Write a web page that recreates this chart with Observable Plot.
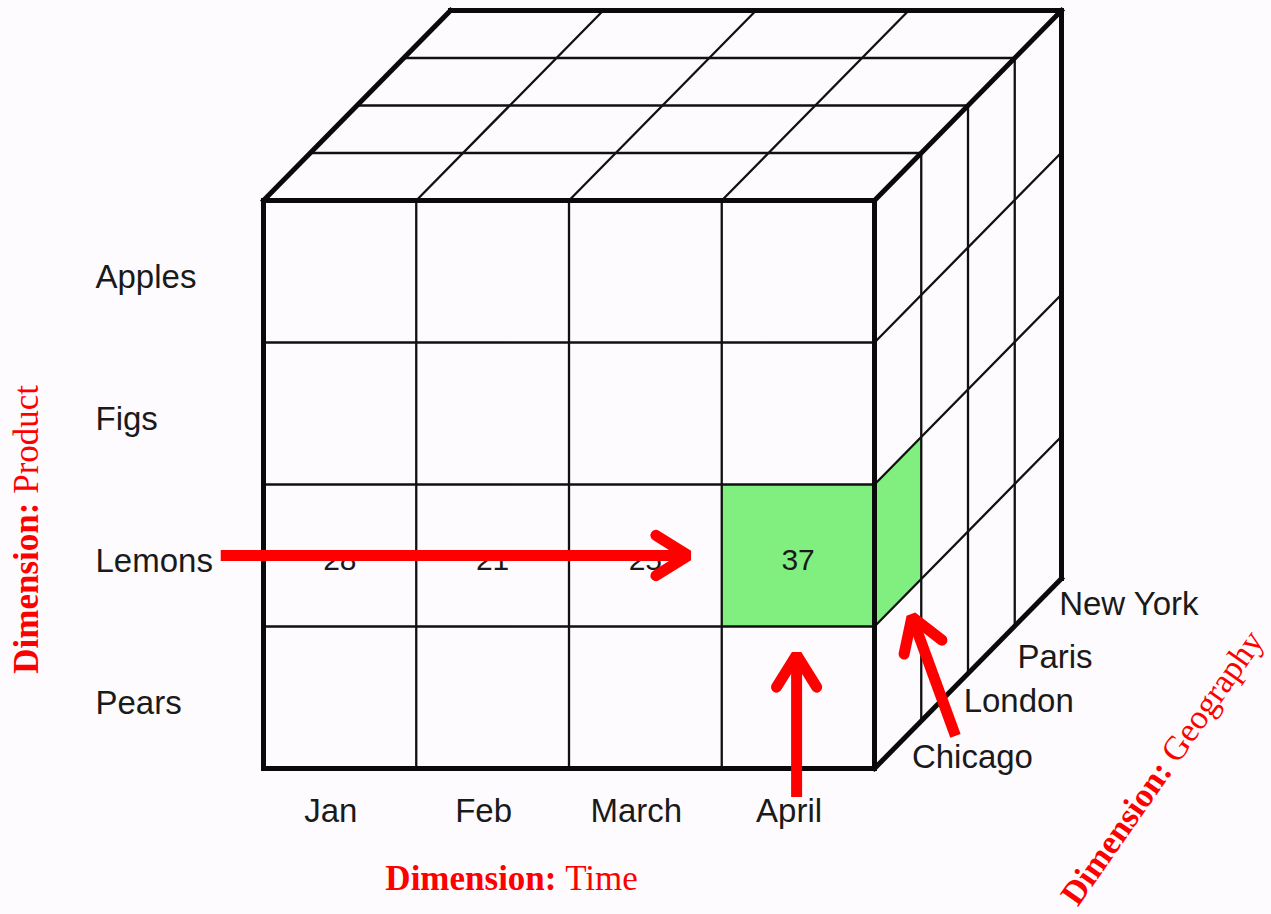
<!DOCTYPE html>
<html><head><meta charset="utf-8">
<script src="https://cdn.jsdelivr.net/npm/d3@7"></script>
<script src="https://cdn.jsdelivr.net/npm/@observablehq/plot@0.6"></script>
<style>
html,body{margin:0;padding:0;background:#fefbfe;}
#chart svg{display:block;}
</style></head><body><div id="chart"></div>
<script>
// ---- data ----
const months = ["Jan", "Feb", "March", "April"];
const products = ["Apples", "Figs", "Lemons", "Pears"];
const cities = ["Chicago", "London", "Paris", "New York"];
const lemonsChicago = [28, 21, 25, 37];          // Lemons sold in Chicago, by month
const highlight = {month: "April", product: "Lemons", city: "Chicago"};
const dimensionTitles = [["Dimension:", "Product"], ["Dimension:", "Time"], ["Dimension:", "Geography"]];

// ---- layout ----
const W = 1271, H = 914;
const FRONT = {left: 263, right: 874, top: 200, bottom: 768};
const DEPTH_PX = {dx: 187, dy: 190};
const nC = months.length, nR = products.length, nD = cities.length;
const kx = (FRONT.right - FRONT.left) / nC, ky = (FRONT.bottom - FRONT.top) / nR;
const DX = DEPTH_PX.dx / kx / nD, DY = DEPTH_PX.dy / ky / nD;
const P = (c, r, d = 0) => ({x: c + DX * d, y: r - DY * d});

const hc = months.indexOf(highlight.month), hr = products.indexOf(highlight.product), hd = cities.indexOf(highlight.city);

// grid segments of the cube
const seg = []; let sid = 0;
function addSeg(a, b, thick) { const id = sid++; seg.push({...a, id, thick}, {...b, id, thick}); }
for (let c = 0; c <= nC; c++) addSeg(P(c, 0), P(c, nR), c === 0 || c === nC);
for (let r = 0; r <= nR; r++) addSeg(P(0, r), P(nC, r), r === 0 || r === nR);
for (let c = 0; c <= nC; c++) addSeg(P(c, 0, 0), P(c, 0, nD), c === 0 || c === nC);
for (let d = 1; d <= nD; d++) addSeg(P(0, 0, d), P(nC, 0, d), d === nD);
for (let r = 1; r <= nR; r++) addSeg(P(nC, r, 0), P(nC, r, nD), r === nR);
for (let d = 1; d <= nD; d++) addSeg(P(nC, 0, d), P(nC, nR, d), d === nD);

// highlighted cell: front face + right face
const frontCell = [{x1: hc, x2: hc + 1, y1: hr, y2: hr + 1}];
const sideCell = [
  {x: P(nC, hr, hd).x, y1: P(nC, hr, hd).y, y2: P(nC, hr + 1, hd).y},
  {x: P(nC, hr, hd + 1).x, y1: P(nC, hr, hd + 1).y, y2: P(nC, hr + 1, hd + 1).y}
];

// cell values
const values = lemonsChicago.map((v, i) => ({x: i + 0.5, y: hr + 0.5, v}));

// arrows (plot units)
const arrowDefs = [
  {tail: {x: -0.28, y: hr + 0.5}, tip: {x: hc - 0.22, y: hr + 0.5}},
  {tail: {x: hc + 0.49, y: nR + 0.2}, tip: {x: hc + 0.49, y: hr + 1.2}},
  {tail: {x: 4.53, y: 3.77}, tip: {x: 4.245, y: 2.932}}
];
const shafts = [], heads = [];
arrowDefs.forEach((a, i) => {
  const vx = (a.tip.x - a.tail.x) * kx, vy = (a.tip.y - a.tail.y) * ky, L = Math.hypot(vx, vy);
  const bx = -vx / L, by = -vy / L, armLen = 38, half = 32 * Math.PI / 180;
  const arm = s => {
    const cs = Math.cos(half), sn = Math.sin(half) * s;
    return {x: a.tip.x + (bx * cs - by * sn) * armLen / kx, y: a.tip.y + (bx * sn + by * cs) * armLen / ky, id: i};
  };
  shafts.push({...a.tail, id: i}, {...a.tip, id: i});
  heads.push(arm(1), {...a.tip, id: i}, arm(-1));
});

const sans = "'Liberation Sans', Arial, Helvetica, sans-serif";
const serif = "'Liberation Serif', 'Times New Roman', serif";
const ink = "#1a1a1a";

const titlePos = [
  {x: -1.473, y: 2.127, rotate: -90, size: 35},
  {x: 1.918, y: 4.859, rotate: 0, size: 35},
  {x: 5.955, y: 4.02, rotate: -55, size: 34}
];
const titles = dimensionTitles.map((t, i) => ({...titlePos[i], a: t[0], b: "\u00a0" + t[1]}));
const cityNudge = [[14, 13], [19, 4], [26, 8], [21, 2]];

const chart = Plot.plot({
  width: W, height: H, margin: 0,
  x: {domain: [0, nC], range: [FRONT.left, FRONT.right], axis: null},
  y: {domain: [0, nR], range: [FRONT.top, FRONT.bottom], axis: null},
  style: {background: "transparent", overflow: "visible"},
  marks: [
    Plot.rect(frontCell, {x1: "x1", x2: "x2", y1: "y1", y2: "y2", fill: "#80ef80"}),
    Plot.area(sideCell, {x1: "x", y1: "y1", y2: "y2", fill: "#80ef80"}),
    Plot.line(seg.filter(s => !s.thick), {x: "x", y: "y", z: "id", stroke: "#111", strokeWidth: 2.3}),
    Plot.line(seg.filter(s => s.thick), {x: "x", y: "y", z: "id", stroke: "#0a0a0a", strokeWidth: 5, strokeLinecap: "square"}),
    Plot.text(values, {x: "x", y: "y", text: d => String(d.v), fontSize: 30, fontFamily: sans, fill: ink, dy: 5}),
    Plot.text(products, {x: () => -1.10, y: (d, i) => i + 0.5, text: d => d, textAnchor: "start", fontSize: 33, fontFamily: sans, fill: ink, dy: 6}),
    Plot.text(months, {x: (d, i) => i + 0.5, y: () => nR + 0.3, text: d => d, fontSize: 33, fontFamily: sans, fill: ink, dx: -9}),
    ...cities.map((city, i) => Plot.text([city], {x: () => P(nC, nR, i + 0.5).x, y: () => P(nC, nR, i + 0.5).y, text: d => d, textAnchor: "start", fontSize: 33, fontFamily: sans, fill: ink, dx: cityNudge[i][0], dy: cityNudge[i][1]})),
    Plot.line(shafts, {x: "x", y: "y", z: "id", stroke: "#ff0000", strokeWidth: 11, strokeLinecap: "butt"}),
    Plot.line(heads, {x: "x", y: "y", z: "id", stroke: "#ff0000", strokeWidth: 11, strokeLinecap: "round", strokeLinejoin: "miter", curve: "linear"}),
    Plot.text(titles, {x: "x", y: "y", text: "a", rotate: "rotate", textAnchor: "end", lineAnchor: "bottom", fontWeight: "bold", fontSize: "size", fontFamily: serif, fill: "#ff0000"}),
    Plot.text(titles, {x: "x", y: "y", text: "b", rotate: "rotate", textAnchor: "start", lineAnchor: "bottom", fontSize: "size", fontFamily: serif, fill: "#ff0000"})
  ]
});
document.getElementById("chart").append(chart);
</script></body></html>
